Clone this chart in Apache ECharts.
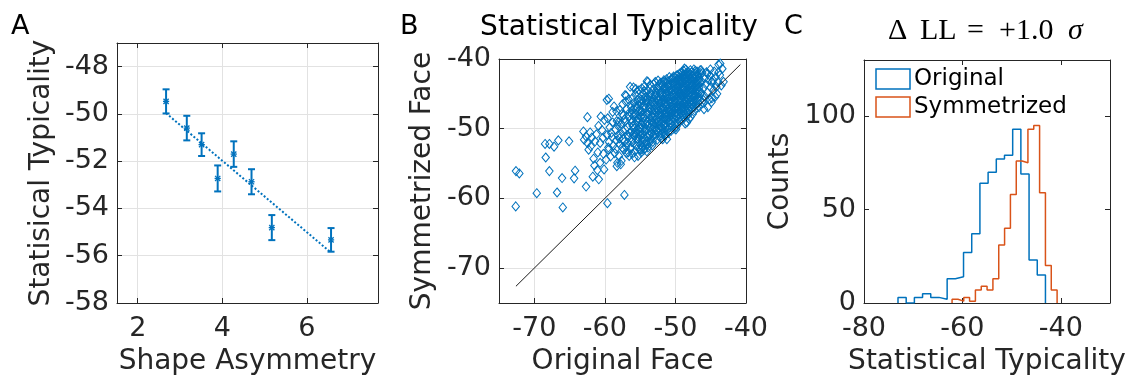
<!DOCTYPE html>
<html><head><meta charset="utf-8">
<script src="https://cdn.jsdelivr.net/npm/echarts@6/dist/echarts.min.js"></script>
<style>html,body{margin:0;padding:0;background:#fff}#c{width:1135px;height:381px}</style>
</head><body><div id="c"></div><script>
// ---------- Panel A data ----------
const asymX   = [2.67, 3.16, 3.51, 3.89, 4.27, 4.69, 5.17, 6.57];
const typMean = [-49.47, -50.60, -51.30, -52.73, -51.70, -52.87, -54.81, -55.33];
const typErr  = [0.51, 0.52, 0.48, 0.55, 0.54, 0.53, 0.53, 0.50];
const fitX = [2.67, 6.57];
const fitY = [-49.97, -55.87];
const aXTicks = [2, 4, 6];
const aYTicks = [-58, -56, -54, -52, -50, -48];

// ---------- Panel B data (Original face, Symmetrized face) ----------
const facePoints = [
[-72.59,-56.08],[-72.12,-56.41],[-72.63,-61.14],
[-69.65,-59.25],[-68.47,-52.18],[-68.38,-54.13],
[-67.86,-52.18],[-67.2,-52.57],[-66.59,-51.67],[-67.86,-56.08],[-66.77,-59.15],
[-65.07,-51.81],[-66.06,-57.08],[-65.96,-61.29],
[-64.22,-56.02],[-64.36,-57.12],
[-62.66,-58.3],[-62.47,-48.34],[-63.04,-50.39],[-62.66,-51.1],[-62.09,-50.53],[-62.94,-51.57],[-62.47,-52.04],[-61.85,-51.25],[-61.99,-52.52],[-61.48,-55.27],[-61.71,-56.88],[-62.3,-53.0],[-61.6,-54.3],
[-61.38,-51.81],[-60.67,-52.04],[-60.29,-51.33],[-60.57,-48.26],[-60.06,-48.73],[-60.67,-54.89],[-61.06,-55.94],[-60.86,-57.26],[-60.11,-55.84],[-61.0,-53.4],[-60.4,-50.2],[-60.9,-49.6],[-60.2,-53.6],[-61.2,-50.8],
[-59.44,-45.7],[-59.72,-45.88],[-59.82,-54.42],[-59.5,-53.0],[-59.64,-60.68],[-58.22,-54.89],[-58.31,-55.37],
[-59.6,-48.5],[-59.3,-49.8],[-59.0,-51.2],[-58.8,-52.4],[-59.4,-51.9],[-58.5,-50.1],[-58.3,-48.9],[-58.9,-47.6],[-59.1,-50.6],[-58.6,-53.5],[-58.4,-51.7],[-59.5,-52.7],[-58.2,-49.5],[-58.7,-46.8],[-59.2,-54.0],[-58.45,-52.9],[-59.7,-50.9],[-58.15,-51.0],[-58.9,-49.1],[-58.35,-47.5],
[-57.23,-59.5],[-57.13,-45.17],[-56.66,-53.38],[-56.99,-45.27],
[-58.0,-53.9],[-57.9,-52.2],[-57.8,-50.8],[-57.7,-49.3],[-57.6,-47.9],[-57.5,-46.5],[-57.4,-51.5],[-57.3,-53.0],[-57.2,-48.6],[-57.1,-50.1],[-57.0,-52.6],[-56.9,-47.2],[-56.8,-49.8],[-56.7,-51.2],[-56.6,-48.2],[-56.5,-50.6],[-58.05,-49.0],[-57.85,-47.3],[-57.65,-54.6],[-57.45,-50.3],[-57.25,-51.9],[-57.05,-46.1],[-56.85,-52.0],[-56.65,-45.8],[-56.55,-53.9],[-57.95,-51.4],[-57.55,-52.7],[-57.15,-49.0],[-56.75,-50.9],[-56.45,-47.6],[-57.35,-48.1],[-56.95,-53.5],[-57.75,-55.1],
[-55.95,-44.08],[-56.42,-43.99],
[-56.3,-52.8],[-56.26,-50.4],[-56.34,-48.7],[-56.28,-46.9],
[-56.1,-53.6],[-56.14,-51.5],[-56.06,-49.6],[-56.12,-47.4],[-56.08,-45.6],
[-55.9,-52.1],[-55.86,-50.0],[-55.94,-48.2],[-55.88,-46.3],
[-55.7,-53.2],[-55.74,-51.0],[-55.66,-49.3],[-55.72,-47.8],[-55.68,-45.1],
[-55.5,-52.5],[-55.54,-50.7],[-55.46,-49.0],[-55.52,-47.0],[-55.48,-44.7],
[-55.3,-53.9],[-55.34,-51.8],[-55.26,-50.2],[-55.32,-48.5],[-55.28,-46.6],
[-55.1,-52.9],[-55.14,-51.3],[-55.06,-49.8],[-55.12,-48.0],[-55.08,-46.0],[-55.16,-44.5],
[-54.9,-53.0],[-54.94,-51.1],[-54.86,-49.4],[-54.92,-47.6],[-54.88,-45.8],
[-56.2,-51.9],[-56.22,-49.1],[-56.18,-47.9],
[-55.8,-54.1],[-55.82,-50.6],[-55.78,-46.9],
[-55.4,-51.4],[-55.42,-48.8],[-55.38,-45.9],
[-55.0,-50.5],[-55.02,-47.3],[-54.98,-52.3],
[-54.8,-49.9],[-54.82,-48.3],[-54.78,-51.7],[-54.84,-46.4],
[-56.0,-50.9],[-56.02,-48.9],
[-55.6,-50.3],[-55.62,-44.3],[-55.2,-49.0],[-55.22,-47.5],[-54.85,-53.4],
[-54.05,-53.24],[-54.05,-43.18],[-53.9,-43.28],
[-54.7,-52.6],[-54.74,-50.8],[-54.66,-49.1],[-54.72,-47.5],[-54.68,-45.9],[-54.76,-44.2],
[-54.5,-53.1],[-54.54,-51.6],[-54.46,-49.9],[-54.52,-48.3],[-54.48,-46.7],[-54.56,-45.0],
[-54.3,-52.2],[-54.34,-50.4],[-54.26,-48.7],[-54.32,-47.1],[-54.28,-45.5],[-54.36,-43.9],
[-54.1,-51.8],[-54.14,-50.0],[-54.06,-48.0],[-54.12,-46.4],[-54.08,-44.8],
[-53.9,-52.7],[-53.94,-51.2],[-53.86,-49.5],[-53.92,-47.8],[-53.88,-46.0],[-53.96,-44.5],
[-53.7,-52.0],[-53.74,-50.3],[-53.66,-48.6],[-53.72,-46.9],[-53.68,-45.3],
[-53.5,-51.5],[-53.54,-49.8],[-53.46,-48.2],[-53.52,-46.5],[-53.48,-44.9],[-53.56,-43.7],
[-53.3,-52.4],[-53.34,-50.7],[-53.26,-49.0],[-53.32,-47.3],[-53.28,-45.7],
[-53.15,-51.0],[-53.19,-49.3],[-53.12,-47.7],[-53.17,-46.1],[-53.13,-44.3],
[-54.6,-51.2],[-54.62,-47.9],[-54.2,-49.4],[-54.22,-46.0],[-53.8,-50.8],[-53.82,-47.4],[-53.4,-48.9],[-53.42,-46.2],[-54.4,-52.9],[-54.42,-44.6],
[-54.0,-52.3],[-54.02,-49.0],[-53.98,-45.6],[-53.6,-50.9],[-53.62,-47.2],[-53.2,-48.4],[-53.22,-51.9],
[-51.64,-43.04],[-51.7,-43.28],
[-53.0,-51.3],[-53.04,-49.7],[-52.96,-48.1],[-53.02,-46.6],[-52.98,-45.1],[-53.06,-43.6],
[-52.8,-50.8],[-52.84,-49.2],[-52.76,-47.6],[-52.82,-46.1],[-52.78,-44.6],[-52.86,-43.3],
[-52.6,-51.6],[-52.64,-50.1],[-52.56,-48.6],[-52.62,-47.1],[-52.58,-45.6],[-52.66,-44.1],
[-52.4,-50.5],[-52.44,-49.0],[-52.36,-47.4],[-52.42,-45.9],[-52.38,-44.4],[-52.46,-43.1],
[-52.2,-51.2],[-52.24,-49.6],[-52.16,-48.1],[-52.22,-46.5],[-52.18,-45.0],[-52.26,-43.6],
[-52.0,-50.7],[-52.04,-49.2],[-51.96,-47.7],[-52.02,-46.2],[-51.98,-44.7],
[-51.8,-51.5],[-51.84,-50.0],[-51.76,-48.4],[-51.82,-46.9],[-51.78,-45.3],[-51.86,-43.8],
[-51.6,-50.4],[-51.64,-48.9],[-51.56,-47.3],[-51.62,-45.8],[-51.58,-44.3],
[-51.5,-51.0],[-51.52,-49.5],[-51.48,-47.9],[-51.54,-46.4],[-51.46,-44.9],
[-52.9,-48.8],[-52.92,-45.4],[-52.5,-48.0],[-52.52,-46.7],[-52.1,-48.7],[-52.12,-45.7],[-51.7,-49.4],[-51.72,-47.0],[-52.7,-50.3],[-52.72,-44.9],
[-52.3,-50.0],[-52.32,-47.9],[-52.28,-46.3],[-52.34,-44.0],[-51.9,-49.8],[-51.92,-48.1],[-51.88,-45.0],[-52.95,-47.2],[-52.97,-50.1],[-51.55,-48.5],[-51.57,-46.0],[-52.05,-47.1],[-52.07,-43.4],[-52.03,-51.4],
[-51.21,-51.5],[-50.32,-42.71],
[-51.4,-50.9],[-51.42,-49.4],[-51.38,-47.9],[-51.41,-46.4],[-51.39,-44.9],[-51.43,-43.4],
[-51.2,-50.2],[-51.24,-48.7],[-51.16,-47.2],[-51.22,-45.7],[-51.18,-44.2],[-51.26,-42.9],
[-51.0,-50.6],[-51.04,-49.1],[-50.96,-47.6],[-51.02,-46.1],[-50.98,-44.6],[-51.06,-43.2],
[-50.8,-49.8],[-50.84,-48.3],[-50.76,-46.8],[-50.82,-45.3],[-50.78,-43.8],[-50.86,-42.6],
[-50.6,-50.3],[-50.64,-48.8],[-50.56,-47.3],[-50.62,-45.8],[-50.58,-44.3],[-50.66,-43.0],
[-50.4,-49.5],[-50.44,-48.0],[-50.36,-46.5],[-50.42,-45.0],[-50.38,-43.5],
[-50.2,-50.0],[-50.24,-48.5],[-50.16,-47.0],[-50.22,-45.5],[-50.18,-44.0],[-50.26,-42.5],
[-50.0,-49.2],[-50.04,-47.7],[-49.96,-46.2],[-50.02,-44.7],[-49.98,-43.2],
[-49.85,-49.7],[-49.87,-48.2],[-49.83,-46.7],[-49.86,-45.2],[-49.84,-43.7],[-49.88,-42.4],
[-51.3,-48.3],[-51.32,-45.1],[-50.9,-47.4],[-50.92,-44.0],[-50.5,-46.9],[-50.52,-42.8],[-50.1,-48.0],[-50.12,-45.9],
[-51.1,-48.0],[-51.12,-46.5],[-51.08,-43.7],[-50.7,-49.2],[-50.72,-46.2],[-50.68,-44.5],[-50.3,-47.5],[-50.32,-45.2],[-50.28,-43.7],[-49.95,-47.1],[-49.97,-44.3],[-49.93,-50.1],[-51.35,-46.8],[-51.37,-44.3],[-50.55,-45.4],[-50.57,-48.1],[-50.53,-47.7],
[-48.72,-41.37],[-48.38,-49.11],[-48.62,-49.25],
[-49.7,-49.3],[-49.72,-47.9],[-49.68,-46.5],[-49.71,-45.1],[-49.69,-43.7],[-49.73,-42.3],
[-49.55,-48.6],[-49.57,-47.2],[-49.53,-45.8],[-49.56,-44.4],[-49.54,-43.0],
[-49.4,-49.0],[-49.42,-47.6],[-49.38,-46.2],[-49.41,-44.8],[-49.39,-43.4],[-49.43,-42.1],
[-49.25,-48.3],[-49.27,-46.9],[-49.23,-45.5],[-49.26,-44.1],[-49.24,-42.7],
[-49.1,-48.8],[-49.12,-47.4],[-49.08,-46.0],[-49.11,-44.6],[-49.09,-43.2],[-49.13,-41.9],
[-48.95,-48.0],[-48.97,-46.6],[-48.93,-45.2],[-48.96,-43.8],[-48.94,-42.5],
[-48.8,-48.5],[-48.82,-47.1],[-48.78,-45.7],[-48.81,-44.3],[-48.79,-42.9],[-48.83,-41.7],
[-48.65,-47.8],[-48.67,-46.4],[-48.63,-45.0],[-48.66,-43.6],[-48.64,-42.2],
[-48.5,-48.2],[-48.52,-46.8],[-48.48,-45.4],[-48.51,-44.0],[-48.49,-42.6],[-48.53,-41.5],
[-48.35,-47.5],[-48.37,-46.1],[-48.33,-44.7],[-48.36,-43.3],[-48.34,-42.0],
[-48.2,-48.0],[-48.22,-46.6],[-48.18,-45.2],[-48.21,-43.9],[-48.19,-42.4],
[-49.6,-46.0],[-49.62,-44.0],[-49.3,-45.0],[-49.32,-43.1],[-49.0,-47.1],[-49.02,-44.3],[-48.7,-46.0],[-48.72,-43.0],[-48.4,-45.6],[-48.42,-43.7],[-48.15,-44.6],[-48.17,-47.2],
[-49.45,-46.8],[-49.47,-44.9],[-49.43,-42.6],[-49.15,-45.3],[-49.17,-43.5],[-49.13,-47.0],[-48.85,-46.3],[-48.87,-44.0],[-48.83,-42.2],[-48.55,-47.3],[-48.57,-44.9],[-48.53,-43.0],[-48.25,-45.8],[-48.27,-43.1],[-48.23,-41.8],[-49.75,-44.5],[-49.76,-46.9],[-49.74,-42.9],
[-46.49,-41.61],
[-48.0,-47.5],[-48.02,-46.2],[-47.98,-44.9],[-48.01,-43.6],[-47.99,-42.3],
[-47.85,-48.3],[-47.87,-46.9],[-47.83,-45.5],[-47.86,-44.2],[-47.84,-42.8],[-47.88,-41.6],
[-47.7,-47.1],[-47.72,-45.8],[-47.68,-44.5],[-47.71,-43.2],[-47.69,-41.9],
[-47.55,-47.9],[-47.57,-46.5],[-47.53,-45.1],[-47.56,-43.7],[-47.54,-42.4],
[-47.4,-46.8],[-47.42,-45.4],[-47.38,-44.0],[-47.41,-42.7],[-47.39,-41.5],
[-47.25,-47.4],[-47.27,-46.0],[-47.23,-44.7],[-47.26,-43.4],[-47.24,-42.1],
[-47.1,-46.6],[-47.12,-45.2],[-47.08,-43.9],[-47.11,-42.5],
[-46.95,-47.0],[-46.97,-45.7],[-46.93,-44.3],[-46.96,-43.0],[-46.94,-41.8],
[-46.8,-46.3],[-46.82,-45.0],[-46.78,-43.6],[-46.81,-42.3],
[-46.65,-46.9],[-46.67,-45.5],[-46.63,-44.1],[-46.66,-42.8],
[-46.5,-46.0],[-46.52,-44.6],[-46.48,-43.3],[-46.51,-42.0],
[-47.9,-45.0],[-47.92,-43.0],[-47.6,-44.3],[-47.62,-46.2],[-47.3,-43.0],[-47.32,-45.2],[-47.0,-44.8],[-47.02,-43.4],
[-48.05,-48.6],[-48.07,-44.4],[-47.75,-43.7],[-47.77,-46.6],[-47.15,-44.1],[-47.17,-41.7],[-46.7,-43.1],[-46.72,-44.8],
[-46.02,-45.88],[-44.83,-45.64],
[-46.4,-44.9],[-46.3,-43.2],[-46.2,-42.0],[-46.1,-46.3],[-46.0,-44.2],[-45.9,-42.8],[-45.8,-45.4],[-45.7,-43.6],[-45.6,-41.9],[-45.5,-44.8],[-45.4,-46.9],[-45.3,-43.0],[-45.2,-45.8],[-45.1,-42.4],[-45.0,-44.1],[-44.9,-46.2],[-44.85,-43.3],[-45.95,-47.2],[-46.35,-41.6],[-45.45,-42.1],[-45.05,-41.5],
[-43.65,-40.66],[-44.36,-45.41],[-44.6,-44.46],[-43.89,-40.8],[-43.18,-43.28],
[-44.7,-43.0],[-44.5,-41.8],[-44.3,-42.6],[-44.2,-44.0],[-44.0,-43.3],[-43.9,-41.9],[-43.7,-42.3],[-43.5,-43.8],[-43.35,-41.4],[-44.1,-45.0]
];
const diagEnds = [-72.6, -40.8];
const bTicks = [-70, -60, -50, -40];

// ---------- Panel C data (histograms) ----------
const origEdges  = [-73.09,-71.425,-69.76,-68.095,-66.43,-64.765,-63.10,-61.435,-59.77,-58.105,-56.44,-54.775,-53.11,-51.445,-49.78,-48.115,-46.45,-44.785,-43.12];
const origCounts = [3,0,3,5,3,2,13,14,27,37,64,70,77,79,93,69,23,15];
const symEdges   = [-62.10,-60.914,-59.728,-58.542,-57.356,-56.17,-54.984,-53.798,-52.612,-51.426,-50.24,-49.054,-47.868,-46.682,-45.496,-44.31,-43.124,-41.938,-40.752];
const symCounts  = [2,1,3,1,7,9,7,13,31,40,58,76,75,93,95,59,20,7];
const cXTicks = [-80, -60, -40];
const cYTicks = [0, 50, 100];
const legendNames = ['Original', 'Symmetrized'];

// ---------- styling ----------
const FONT = 'DejaVu Sans';
const TXT = '#262626';
const GRIDC = '#e2e2e2';
const BLUE = '#0072BD';
const ORANGE = '#D95319';

function stairs(edges, counts) {
  const pts = [[edges[0], 0]];
  for (let i = 0; i < counts.length; i++) {
    pts.push([edges[i], counts[i]], [edges[i + 1], counts[i]]);
  }
  pts.push([edges[edges.length - 1], 0]);
  return pts;
}

function axisPair(isX, gi, min, max, ticks, grid, name, nameGap, margin) {
  const main = {
    type: 'value', gridIndex: gi, min: min, max: max,
    position: isX ? 'bottom' : 'left',
    name: name, nameLocation: 'middle', nameGap: nameGap,
    nameTextStyle: {fontFamily: FONT, fontSize: 28, color: TXT},
    axisLine: {show: true, onZero: false, lineStyle: {color: TXT, width: 1}},
    axisTick: {show: true, inside: true, length: 5, customValues: ticks, lineStyle: {color: TXT, width: 1}},
    axisLabel: {show: true, customValues: ticks, fontFamily: FONT, fontSize: 27, color: TXT, margin: margin},
    splitLine: {show: grid, lineStyle: {color: GRIDC, width: 1}}
  };
  const opp = {
    type: 'value', gridIndex: gi, min: min, max: max,
    position: isX ? 'top' : 'right',
    axisLine: {show: true, onZero: false, lineStyle: {color: TXT, width: 1}},
    axisTick: {show: true, inside: true, length: 5, customValues: ticks, lineStyle: {color: TXT, width: 1}},
    axisLabel: {show: false},
    splitLine: {show: false}
  };
  return [main, opp];
}

const xAxes = [].concat(
  axisPair(true, 0, 1.51, 7.68, aXTicks, true, 'Shape Asymmetry', 45, 12),
  axisPair(true, 1, -75, -40, bTicks, true, 'Original Face', 45, 12),
  axisPair(true, 2, -80, -30, cXTicks, false, 'Statistical Typicality', 45, 12)
);
const yAxes = [].concat(
  axisPair(false, 0, -58, -47, aYTicks, true, 'Statisical Typicality', 61, 8),
  axisPair(false, 1, -75, -40, bTicks, true, 'Symmetrized Face', 62, 8),
  axisPair(false, 2, 0, 130, cYTicks, false, 'Counts', 69, 8)
);

const errData = asymX.map((x, i) => [x, typMean[i], typErr[i]]);

const option = {
  animation: false,
  backgroundColor: '#fff',
  grid: [
    {left: 117, top: 43, width: 261, height: 262},
    {left: 499, top: 59, width: 247, height: 246},
    {left: 864, top: 60, width: 246, height: 245}
  ],
  xAxis: xAxes,
  yAxis: yAxes,
  series: [
    {
      type: 'line', xAxisIndex: 0, yAxisIndex: 0,
      data: fitX.map((x, i) => [x, fitY[i]]),
      symbol: 'none', silent: true,
      lineStyle: {color: BLUE, width: 2, type: 'dotted'}
    },
    {
      type: 'custom', xAxisIndex: 0, yAxisIndex: 0, data: errData, silent: true,
      renderItem: function (params, api) {
        const x = api.value(0), m = api.value(1), e = api.value(2);
        const c = api.coord([x, m]);
        const t = api.coord([x, m + e]);
        const b = api.coord([x, m - e]);
        const cap = 3.5, s = 2.6;
        const st = {stroke: BLUE, lineWidth: 2, fill: null};
        const st2 = {stroke: BLUE, lineWidth: 1.3, fill: null};
        return {
          type: 'group',
          children: [
            {type: 'line', shape: {x1: t[0], y1: t[1], x2: b[0], y2: b[1]}, style: st},
            {type: 'line', shape: {x1: t[0] - cap, y1: t[1], x2: t[0] + cap, y2: t[1]}, style: st},
            {type: 'line', shape: {x1: b[0] - cap, y1: b[1], x2: b[0] + cap, y2: b[1]}, style: st},
            {type: 'line', shape: {x1: c[0] - s, y1: c[1] - s, x2: c[0] + s, y2: c[1] + s}, style: st2},
            {type: 'line', shape: {x1: c[0] - s, y1: c[1] + s, x2: c[0] + s, y2: c[1] - s}, style: st2},
            {type: 'line', shape: {x1: c[0] - s - 0.5, y1: c[1], x2: c[0] + s + 0.5, y2: c[1]}, style: st2}
          ]
        };
      }
    },
    {
      type: 'scatter', xAxisIndex: 2, yAxisIndex: 2,
      data: facePoints, symbol: 'diamond', symbolSize: [7.5, 9], silent: true,
      itemStyle: {color: 'rgba(0,0,0,0)', borderColor: BLUE, borderWidth: 1, opacity: 1}
    },
    {
      type: 'line', xAxisIndex: 2, yAxisIndex: 2,
      data: [[diagEnds[0], diagEnds[0]], [diagEnds[1], diagEnds[1]]],
      symbol: 'none', silent: true,
      lineStyle: {color: '#1a1a1a', width: 1}
    },
    {
      name: legendNames[0], type: 'line', xAxisIndex: 4, yAxisIndex: 4,
      data: stairs(origEdges, origCounts), symbol: 'none', silent: true,
      lineStyle: {color: BLUE, width: 1.5}
    },
    {
      name: legendNames[1], type: 'line', xAxisIndex: 4, yAxisIndex: 4,
      data: stairs(symEdges, symCounts), symbol: 'none', silent: true,
      lineStyle: {color: ORANGE, width: 1.5}
    }
  ],
  graphic: [
    {type: 'text', left: 11, top: 13, style: {text: 'A', font: '27px "DejaVu Sans"', fill: '#000'}},
    {type: 'text', left: 400, top: 13, style: {text: 'B', font: '27px "DejaVu Sans"', fill: '#000'}},
    {type: 'text', left: 784, top: 13, style: {text: 'C', font: '27px "DejaVu Sans"', fill: '#000'}},
    {type: 'text', x: 619, y: 28, style: {text: 'Statistical Typicality', font: '28px "DejaVu Sans"', fill: '#000', align: 'center', verticalAlign: 'middle'}},
    {type: 'text', x: 888, y: 31, style: {
      text: '{a|Δ}{b|LL}{c|=}{d|+1.0}{e|σ}',
      verticalAlign: 'middle', align: 'left',
      rich: {
        a: {fontFamily: 'Liberation Serif', fontSize: 30, width: 32, fill: '#000'},
        b: {fontFamily: 'Liberation Serif', fontSize: 30, width: 47, fill: '#000'},
        c: {fontFamily: 'Liberation Serif', fontSize: 30, width: 32, fill: '#000'},
        d: {fontFamily: 'Liberation Serif', fontSize: 30, width: 69, fill: '#000'},
        e: {fontFamily: 'Liberation Serif', fontSize: 30, fontStyle: 'italic', width: 18, fill: '#000'}
      }
    }},
    {type: 'rect', shape: {x: 876, y: 69, width: 34, height: 20}, style: {fill: 'none', stroke: BLUE, lineWidth: 1.5}},
    {type: 'text', x: 914, y: 79, style: {text: legendNames[0], font: '23px "DejaVu Sans"', fill: '#000', verticalAlign: 'middle'}},
    {type: 'rect', shape: {x: 876, y: 97, width: 34, height: 20}, style: {fill: 'none', stroke: ORANGE, lineWidth: 1.5}},
    {type: 'text', x: 914, y: 107, style: {text: legendNames[1], font: '23px "DejaVu Sans"', fill: '#000', verticalAlign: 'middle'}}
  ]
};

const chart = echarts.init(document.getElementById('c'), null, {renderer: 'canvas'});
chart.setOption(option);
</script></body></html>
